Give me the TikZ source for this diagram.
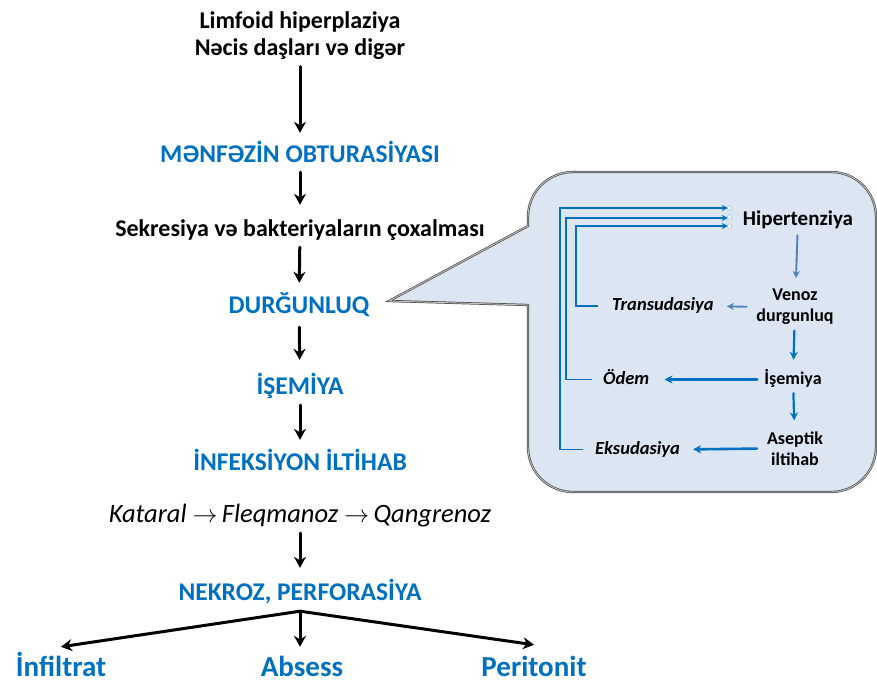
\documentclass[tikz,border=0pt]{standalone}
\usepackage{fontspec}
\setmainfont{Carlito}
\usepackage{tikz}
\usetikzlibrary{arrows.meta}
\usepackage{xcolor}
\definecolor{azure}{HTML}{0070C0}
\definecolor{softblue}{HTML}{4F81BD}
\definecolor{calloutfill}{HTML}{DCE6F2}

\begin{document}
\begin{tikzpicture}[x=1pt,y=-1pt,>={Stealth[length=11pt,width=12pt]},line cap=round,
  blackstep/.style={font=\fontsize{24}{27}\selectfont\bfseries,inner sep=0pt,text height=17pt,text depth=5pt},
  bluestep/.style={font=\fontsize{25.5}{28}\selectfont\bfseries,text=azure,inner sep=0pt,text height=18pt,text depth=5pt},
  outcome/.style={font=\fontsize{29}{33}\selectfont\bfseries,text=azure,inner sep=0pt,text height=21pt,text depth=2pt},
  flow/.style={->,line width=3pt},
  inbox/.style={font=\fontsize{18}{21}\selectfont\bfseries,inner sep=0pt,align=center},
  inlabel/.style={font=\fontsize{18.5}{21}\selectfont\bfseries\itshape,inner sep=0pt,anchor=west,text height=13pt,text depth=4pt},
  thinflow/.style={-{Stealth[length=7pt,width=7pt]},softblue,line width=1.9pt},
  inflow/.style={-{Stealth[length=8pt,width=8pt]},azure,line width=2.2pt},
  backflow/.style={-{Stealth[length=6pt,width=6pt]},azure,line width=1.8pt,line cap=butt}]
\useasboundingbox (0,0) rectangle (877,685);

% callout behind the cycle
\draw[draw=black!70,double=black!25,double distance=0.9pt,line width=0.7pt,fill=calloutfill]
  (389,301) -- (528,226) -- (528,217) .. controls (528,192) and (548,172) .. (573,172)
  -- (831,172) .. controls (856,172) and (876,192) .. (876,217)
  -- (876,447) .. controls (876,472) and (856,492) .. (831,492)
  -- (573,492) .. controls (548,492) and (528,472) .. (528,447) -- (528,305) -- cycle;

% main chain
\node[font=\fontsize{24}{27}\selectfont\bfseries,inner sep=0pt,align=center] (cause) at (300,36) {Limfoid hiperplaziya\\Nəcis daşları və digər};
\node[bluestep] (obtur) at (300,155.5) {MƏNFƏZİN OBTURASİYASI};
\node[blackstep] (sekr) at (300,230) {Sekresiya və bakteriyaların çoxalması};
\node[bluestep] (durg) at (299,306.5) {DURĞUNLUQ};
\node[bluestep] (isem) at (300,387.5) {İŞEMİYA};
\node[bluestep] (infek) at (300,463.5) {İNFEKSİYON İLTİHAB};
\node[font=\fontsize{26.5}{30}\selectfont\itshape,inner sep=0pt,text height=19pt,text depth=5pt] (stage) at (300,515) {Kataral $\rightarrow$\,Fleqmanoz $\rightarrow$\,Qangrenoz};
\node[bluestep] (nekroz) at (300,593.5) {NEKROZ, PERFORASİYA};
\node[outcome] (infil) at (61,667) {İnfiltrat};
\node[outcome] (absess) at (302,667) {Absess};
\node[outcome] (perit) at (534,667) {Peritonit};

\draw[flow,shorten <=6.5pt,shorten >=11pt] (cause) -- (obtur);
\draw[flow,shorten <=5pt,shorten >=14pt] (obtur) -- (sekr);
\draw[flow,shorten <=6pt,shorten >=12pt] (sekr) -- (durg);
\draw[flow,shorten <=9pt,shorten >=16pt] (durg) -- (isem);
\draw[flow,shorten <=6pt,shorten >=12pt] (isem) -- (infek);
\draw[flow,shorten <=6pt,shorten >=14pt] (stage) -- (nekroz);
\coordinate (fork) at ([yshift=-6pt]nekroz.south);
\draw[flow,shorten >=8.5pt] (fork) -- (fork |- absess.north);
\draw[flow,<->] ([yshift=8.5pt]infil.north) -- (fork) -- ([yshift=10.5pt]perit.north);

% cycle inside the callout
\node[font=\fontsize{21}{24}\selectfont\bfseries,inner sep=0pt,text height=15pt,text depth=4pt] (hiper) at (798,219.5) {Hipertenziya};
\node[inbox] (venoz) at (795,307) {Venoz\\durgunluq};
\node[inbox,text height=13pt,text depth=4pt] (ischem) at (793,379.5) {İşemiya};
\node[inbox] (asept) at (795,448.5) {Aseptik\\iltihab};
\node[inlabel] (trans) at (612,306) {Transudasiya};
\node[inlabel] (odem) at (603,379.5) {Ödem};
\node[inlabel] (eksud) at (595,449.5) {Eksudasiya};

\draw[thinflow,shorten <=6pt,shorten >=11pt] (hiper) -- (venoz);
\draw[inflow,shorten <=5.5pt,shorten >=11pt] (venoz) -- (ischem);
\draw[inflow,shorten <=5pt,shorten >=11pt] (ischem) -- (asept);
\draw[thinflow,shorten <=9.5pt,shorten >=13pt] (venoz.west) -- (trans.east);
\draw[inflow,line width=2.6pt,shorten <=7pt,shorten >=15pt] (ischem.west) -- (odem.east);
\draw[inflow,line width=2.6pt,shorten <=10pt,shorten >=13pt] (asept.west) -- (eksud.east);

% feedback to hypertension
\draw[backflow,shorten <=14pt,shorten >=15pt] (trans.west) -- ++(-36,0) |- ([yshift=-6.5pt]hiper.west);
\draw[backflow,shorten <=11pt,shorten >=15pt] (odem.west) -- ++(-37,0) |- ([yshift=1.5pt]hiper.west);
\draw[backflow,shorten <=12pt,shorten >=15pt] (eksud.west) -- ++(-35,0) |- ([yshift=11.5pt]hiper.west);
\draw[azure!45,fill=white,line width=0.5pt] (729.5,208) circle (2.2pt);
\draw[azure!45,fill=white,line width=0.5pt] (729.5,217) circle (2.2pt);
\draw[azure!45,fill=white,line width=0.5pt] (729.5,226) circle (2.2pt);
\end{tikzpicture}
\end{document}
